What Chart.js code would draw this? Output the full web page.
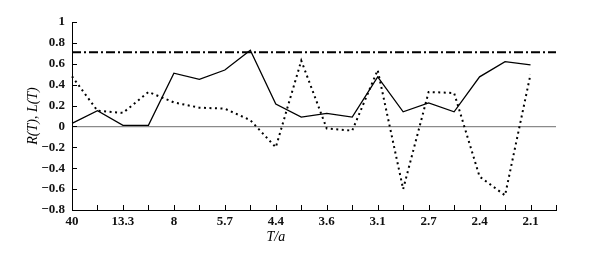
<!DOCTYPE html>
<html>
<head>
<meta charset="utf-8">
<script src="https://cdn.jsdelivr.net/npm/chart.js@4/dist/chart.umd.min.js"></script>
<style>
  html, body { margin: 0; padding: 0; background: #ffffff; }
  #wrap { width: 593px; height: 258px; position: relative; }
</style>
</head>
<body>
<div id="wrap"><canvas id="rl-chart"></canvas></div>
<script>
// period axis, T/a (every other tick is labelled)
const tickLabels = ["40", "", "13.3", "", "8", "", "5.7", "", "4.4", "", "3.6", "", "3.1", "", "2.7", "", "2.4", "", "2.1", ""];

// solid curve
const rValues = [0.03, 0.15, 0.01, 0.01, 0.51, 0.45, 0.54, 0.73, 0.215, 0.09, 0.125, 0.09, 0.475, 0.14, 0.225, 0.14, 0.475, 0.62, 0.59];

// dotted curve
const lValues = [0.48, 0.15, 0.13, 0.33, 0.23, 0.18, 0.17, 0.06, -0.2, 0.63, -0.02, -0.04, 0.54, -0.6, 0.33, 0.32, -0.48, -0.66, 0.5];

// dash-dot reference level
const levelValues = [0.71, 0.71, 0.71, 0.71, 0.71, 0.71, 0.71, 0.71, 0.71, 0.71, 0.71, 0.71, 0.71, 0.71, 0.71, 0.71, 0.71, 0.71, 0.71, 0.71];

const yMin = -0.8;
const yMax = 1;
const yStep = 0.2;

const serif = '"Liberation Serif", "DejaVu Serif", serif';

// ticks point into the plot, and the axis titles are placed by hand
const axisExtras = {
  id: "axisExtras",
  afterDraw(chart) {
    const { ctx, chartArea, scales } = chart;
    const x = scales.x;
    const y = scales.y;
    ctx.save();
    ctx.strokeStyle = "#000";
    ctx.lineWidth = 1;
    ctx.beginPath();
    x.ticks.forEach((t, i) => {
      const px = Math.round(x.getPixelForTick(i)) + 0.5;
      ctx.moveTo(px, chartArea.bottom);
      ctx.lineTo(px, chartArea.bottom - 5);
    });
    y.ticks.forEach((t, i) => {
      const py = Math.round(y.getPixelForTick(i)) + 0.5;
      ctx.moveTo(chartArea.left, py);
      ctx.lineTo(chartArea.left + 5, py);
    });
    ctx.stroke();

    ctx.fillStyle = "#000";
    ctx.font = "italic 14px " + serif;
    ctx.textAlign = "center";
    ctx.textBaseline = "middle";
    ctx.fillText("T/a", x.getPixelForValue(8), 237);
    ctx.translate(33, (chartArea.top + chartArea.bottom) / 2);
    ctx.rotate(-Math.PI / 2);
    ctx.fillText("R(T), L(T)", 0, 0);
    ctx.restore();
  },
};

const canvas = document.querySelector("#rl-chart");
const options = {
  type: "line",
  data: {
    labels: tickLabels,
    datasets: [
      {
        label: "level",
        data: levelValues,
        borderColor: "#000",
        borderWidth: 2,
        borderDash: [9, 3, 2, 3],
        pointRadius: 0,
      },
      {
        label: "R(T)",
        data: rValues,
        borderColor: "#000",
        borderWidth: 1.3,
        pointRadius: 0,
      },
      {
        label: "L(T)",
        data: lValues,
        borderColor: "#000",
        borderWidth: 2,
        borderDash: [2, 3.5],
        pointRadius: 0,
      },
    ],
  },
  options: {
    responsive: true,
    maintainAspectRatio: false,
    animation: false,
    layout: { padding: { top: 22, right: 37, left: 0, bottom: 0 } },
    plugins: {
      legend: { display: false },
      tooltip: { enabled: false },
    },
    elements: { line: { tension: 0 } },
    scales: {
      x: {
        type: "category",
        offset: false,
        afterFit: (s) => { s.height = 48; },
        border: { display: true, color: "#000", width: 1 },
        grid: { display: false, drawTicks: false },
        ticks: {
          autoSkip: false,
          maxRotation: 0,
          padding: 4,
          color: "#111",
          font: { family: serif, size: 13, weight: "bold" },
        },
      },
      y: {
        min: yMin,
        max: yMax,
        afterFit: (s) => { s.width = 72; },
        border: { display: true, color: "#000", width: 1 },
        grid: {
          drawTicks: false,
          color: (c) => (c.tick && Math.abs(c.tick.value) < 1e-9 ? "#8a8a8a" : "rgba(0,0,0,0)"),
          lineWidth: 1.2,
        },
        ticks: {
          stepSize: yStep,
          padding: 7,
          color: "#111",
          font: { family: serif, size: 13, weight: "bold" },
          callback: (v) => {
            const r = Math.round(v * 10) / 10;
            return r < 0 ? "\u2212" + String(-r) : String(r);
          },
        },
      },
    },
  },
  plugins: [axisExtras],
};

const rlChart = new Chart(canvas, options);
</script>
</body>
</html>
